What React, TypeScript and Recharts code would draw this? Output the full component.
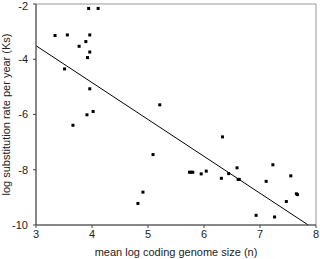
import { ScatterChart, Scatter, XAxis, YAxis, ReferenceLine, ReferenceArea } from "recharts";

const genomeSize = [
  3.94, 4.11, 3.34, 3.56, 3.96, 3.77, 3.89, 3.96, 3.92, 3.51, 3.96, 3.91, 4.02, 3.66,
  5.21, 5.09, 4.91, 4.82, 6.33, 5.74, 5.77, 5.8, 5.95, 6.04, 6.31, 6.44, 6.59, 6.61,
  6.63, 7.23, 7.11, 7.55, 7.65, 7.67, 7.47, 6.93, 7.26,
];
const substRate = [
  -2.16, -2.16, -3.14, -3.12, -3.12, -3.53, -3.36, -3.74, -3.94, -4.35, -5.07, -6.01, -5.89, -6.39,
  -5.65, -7.45, -8.81, -9.22, -6.81, -8.09, -8.09, -8.09, -8.15, -8.05, -8.31, -8.14, -7.93, -8.35,
  -8.35, -7.82, -8.42, -8.22, -8.87, -8.9, -9.15, -9.65, -9.71,
];
const xTicks = [3, 4, 5, 6, 7, 8];
const yTicks = [-10, -8, -6, -4, -2];
const slope = -1.335;
const intercept = 0.495;

const points = genomeSize.map((x, i) => ({ x, y: substRate[i] }));
const fit = (x: number) => intercept + slope * x;
const fitEndX = (-10 - intercept) / slope;

const font = { fontFamily: "'Liberation Sans', Arial, sans-serif", fontSize: 11, fill: "#222" };

const SquareDot = (props: any) => {
  const { cx, cy } = props;
  return <rect x={cx - 1.5} y={cy - 1.5} width={3} height={3} fill="#000" />;
};

export default function App() {
  return (
    <div style={{ position: "absolute", left: 0, top: 0, background: "#fff" }}>
      <ScatterChart width={320} height={259} margin={{ top: 4, right: 4, left: 0, bottom: 0 }}>
        <ReferenceArea x1={3} x2={8} y1={-10} y2={-2} fill="none" stroke="#999" />
        <XAxis
          type="number"
          dataKey="x"
          domain={[3, 8]}
          ticks={xTicks}
          height={34}
          tickSize={3}
          tickMargin={2}
          stroke="#444"
          tick={font}
          label={{ value: "mean log coding genome size (n)", position: "insideBottom", offset: 3, style: font }}
        />
        <YAxis
          type="number"
          dataKey="y"
          domain={[-10, -2]}
          ticks={yTicks}
          width={36}
          tickSize={3}
          tickMargin={5}
          stroke="#444"
          tick={font}
          label={{
            value: "log substitution rate per year (Ks)",
            angle: -90,
            position: "insideLeft",
            offset: 6,
            style: { ...font, textAnchor: "middle" },
          }}
        />
        <ReferenceLine
          segment={[
            { x: 3, y: fit(3) },
            { x: fitEndX, y: -10 },
          ]}
          stroke="#000"
          strokeWidth={1}
        />
        <Scatter data={points} shape={SquareDot} isAnimationActive={false} />
      </ScatterChart>
    </div>
  );
}
